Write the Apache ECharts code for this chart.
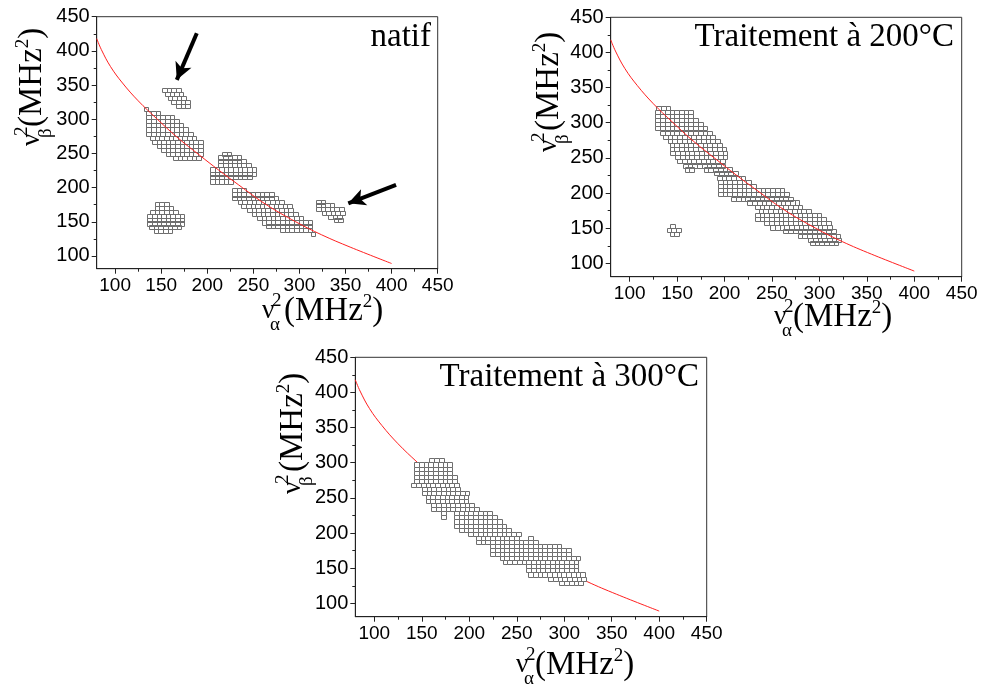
<!DOCTYPE html>
<html>
<head>
<meta charset="utf-8">
<script src="https://cdn.jsdelivr.net/npm/echarts@6/dist/echarts.min.js"></script>
<style>html,body{margin:0;padding:0;background:#fff}#c{width:983px;height:684px}</style>
</head>
<body>
<div id="c"></div>
<script>
// ---------------- data ----------------
const xTicks = [100, 150, 200, 250, 300, 350, 400, 450];
const xMinorTicks = [125, 175, 225, 275, 325, 375, 425];
const yTicks = [100, 150, 200, 250, 300, 350, 400, 450];
const yMinorTicks = [125, 175, 225, 275, 325, 375, 425];

const panelTitles = ['natif', 'Traitement à 200°C', 'Traitement à 300°C'];

// red reference curve
const curveX = [80, 85, 95, 108, 125, 145, 167, 192, 212, 234, 263, 296, 324, 355, 400];
const curveY = [418, 402, 377, 353, 327, 301, 274, 247, 226, 204, 176, 150, 131, 113, 89];

// grid cells, one run per row: [row centre ν²β, left edge ν²α of first cell, number of cells]
const cellsNatif = [
  [343,151,4],[337,154,4],[331,157,4],[325,161,4],[319,166,3],
  [315,131,1],[309,134,3],[303,134,6],[297,134,7],[291,134,8],[285,134,9],[279,134,10],
  [273,138,10],[267,140,11],[261,145,10],[255,150,9],[249,155,8],[243,163,6],
  [249,216,2],[244,212,5],[238.5,212,6],[232.5,212,7],[226.5,203,10],[220.5,203,10],[215,203,9],[209,203,5],
  [196,227,3],[190,227,9],[184.5,227,10],[178.5,233,10],[172.5,237,11],[167,243,10],[161,248,10],
  [155,254,10],[149,259,11],[143.5,264,10],[137.5,279,7],[132,312,1],
  [175.5,143,3],[170,143,4],[164.5,138,6],[158.5,135,8],[153,135,8],[147.5,135,8],[142,137,7],[136.5,142,4],
  [179.5,318,2],[174,318,4],[168.5,318,6],[163,324,5],[157.5,331,3],[152,337,2]
];
const cells200 = [
  [321,128,3],[315,127,8],[309.5,127,8],[303.5,127,9],[298,127,10],[292,127,11],[286,132,11],
  [280,135,11],[274.5,140,11],[268.5,142,11],[262.5,142,12],[257,143,12],[251,148,11],[245,150,10],
  [239,156,9],[233.5,158,2],[233.5,178,6],[228,189,5],[222,192,6],[216,193,7],[210,193,8],
  [204,193,14],[198,193,15],[192,207,13],[186.5,224,11],[180.5,232,10],[174.5,236,11],[169,232,14],
  [163,232,15],[157,242,14],[151,248,13],[145.5,262,11],[139.5,277,9],[133.5,288,7],[129,290,6],
  [153.5,143,1],[147.5,139,3],[141.5,142,2]
];
const cells300 = [
  [303.2,158,3],[297.5,142,8],[291.7,142,8],[286,142,8],[280.2,142,9],[274.4,142,9],[268.6,139,10],
  [262.8,150,8],[257,150,10],[251.2,154,9],[245.4,154,9],[239.6,160,9],[233.8,160,10],
  [228,170,1],[228,184,8],[222.2,170,1],[222.2,184,9],[216.4,184,10],[210.6,184,11],[204.8,189,11],
  [199,199,11],[193.2,207,9],[193.2,262,1],[187.4,207,13],[181.6,222,15],[175.8,222,17],[170,222,17],
  [164.2,232,17],[158.4,235,16],[152.6,260,11],[146.8,260,11],[141,262,12],[135.2,283,8],[129.4,295,5]
];

// arrows in the first panel: [tail, head] in data coordinates
const arrowsNatif = [
  [[188.6, 425.9], [166.9, 357.6]],
  [[404.8, 203.9], [353, 177]]
];

// ---------------- layout / style ----------------
const CELL_W = 5;
const panels = [
  { grid: {left: 96.7, top: 16.7, width: 341, height: 252}, rows: cellsNatif, cellH: 6, curveOnTop: true, yMin: 81.4,
    title: {x: 431, base: 48}, xt: {x: 262, base: 322, off: 22}, yt: {x: 43, y: 146, off: 19} },
  { grid: {left: 610.7, top: 17.3, width: 351, height: 259.4}, rows: cells200, cellH: 5.8, curveOnTop: true, yMin: 81,
    title: {x: 954, base: 48}, xt: {x: 774, base: 328, off: 19}, yt: {x: 560, y: 152, off: 21} },
  { grid: {left: 355.3, top: 357.3, width: 351.4, height: 259.4}, rows: cells300, cellH: 5.8, curveOnTop: false, yMin: 81,
    title: {x: 699, base: 388}, xt: {x: 516, base: 676, off: 19}, yt: {x: 304, y: 494, off: 22} }
];

const SERIF = '"Liberation Serif", "Times New Roman", serif';
const SANS = '"Liberation Sans", Arial, sans-serif';
const mctx = document.createElement('canvas').getContext('2d');
function tw(s, fs) { mctx.font = fs + 'px ' + SERIF; return mctx.measureText(s).width; }
function T(s, x, base, fs, align) {
  return { type: 'text', x: x, y: base - 0.3375 * fs, silent: true,
    style: { text: s, font: fs + 'px ' + SERIF, fill: '#000', align: align || 'left', verticalAlign: 'middle' } };
}
function axisTitle(sub, off) {
  const fsMain = 33, fsNu = 27, fsS = 19;
  const c = [T('ν', 0, -2, fsNu), T('2', 10, -15, fsS), T(sub, 8, 9, fsS)];
  let x = off;
  c.push(T('(MHz', x, 0, fsMain)); x += tw('(MHz', fsMain);
  c.push(T('2', x, -14, fsS)); x += tw('2', fsS);
  c.push(T(')', x, 0, fsMain));
  return c;
}

function expand(rows) {
  const out = [];
  rows.forEach(function (r) { for (let k = 0; k < r[2]; k++) out.push([r[1] + k * CELL_W, r[0]]); });
  return out;
}

const chart = echarts.init(document.getElementById('c'), null, {renderer: 'canvas'});
const grid = [], xAxis = [], yAxis = [], series = [], graphic = [];

panels.forEach(function (p, i) {
  grid.push(Object.assign({show: true, borderColor: '#333', borderWidth: 1, backgroundColor: 'transparent'}, p.grid));
  const lineCol = '#222';
  xAxis.push({ type: 'value', gridIndex: i, position: 'bottom', min: 80, max: 450,
    axisLine: {show: true, onZero: false, lineStyle: {color: lineCol, width: 1}},
    splitLine: {show: false},
    axisTick: {show: true, customValues: xTicks, length: 5, lineStyle: {color: lineCol}},
    axisLabel: {customValues: xTicks, fontFamily: SANS, fontSize: 19, color: '#000', margin: 8} });
  xAxis.push({ type: 'value', gridIndex: i, position: 'bottom', min: 80, max: 450,
    axisLine: {show: false}, splitLine: {show: false}, axisLabel: {show: false},
    axisTick: {show: true, customValues: xMinorTicks, length: 3, lineStyle: {color: lineCol}} });
  yAxis.push({ type: 'value', gridIndex: i, position: 'left', min: p.yMin, max: 450,
    axisLine: {show: true, onZero: false, lineStyle: {color: lineCol, width: 1}},
    splitLine: {show: false},
    axisTick: {show: true, customValues: yTicks, length: 5, lineStyle: {color: lineCol}},
    axisLabel: {customValues: yTicks, fontFamily: SANS, fontSize: 20, color: '#000', margin: 7} });
  yAxis.push({ type: 'value', gridIndex: i, position: 'left', min: p.yMin, max: 450,
    axisLine: {show: false}, splitLine: {show: false}, axisLabel: {show: false},
    axisTick: {show: true, customValues: yMinorTicks, length: 3, lineStyle: {color: lineCol}} });

  const cellH = p.cellH;
  series.push({
    type: 'custom', xAxisIndex: 2 * i, yAxisIndex: 2 * i, z: 3, silent: true,
    data: expand(p.rows),
    renderItem: function (params, api) {
      const x = api.value(0), y = api.value(1);
      const a = api.coord([x, y + cellH / 2]);
      const b = api.coord([x + CELL_W, y - cellH / 2]);
      const x0 = Math.round(a[0]) + 0.5, y0 = Math.round(a[1]) + 0.5;
      const x1 = Math.round(b[0]) + 0.5, y1 = Math.round(b[1]) + 0.5;
      return { type: 'rect', shape: {x: x0, y: y0, width: x1 - x0, height: y1 - y0},
        style: {fill: p.curveOnTop ? 'rgba(255,255,255,0)' : '#fff', stroke: '#6e6e6e', lineWidth: 1} };
    }
  });
  const line = {
    type: 'line', xAxisIndex: 2 * i, yAxisIndex: 2 * i, z: p.curveOnTop ? 5 : 2, silent: true,
    data: curveX.map(function (v, k) { return [v, curveY[k]]; }),
    smooth: 0.4, showSymbol: false, symbol: 'none',
    lineStyle: {color: '#ff2020', width: 1}
  };
  if (i === 0) {
    line.markLine = {
      silent: true, symbol: ['none', 'arrow'], symbolSize: [13, 17],
      label: {show: false}, emphasis: {disabled: true},
      lineStyle: {color: '#000', width: 4, type: 'solid'},
      data: arrowsNatif.map(function (a) { return [{coord: a[0]}, {coord: a[1]}]; })
    };
  }
  series.push(line);

  // panel title
  graphic.push(T(panelTitles[i], p.title.x, p.title.base, 33, 'right'));
  // axis titles
  graphic.push({type: 'group', x: p.xt.x, y: p.xt.base, children: axisTitle('α', p.xt.off)});
  graphic.push({type: 'group', x: p.yt.x, y: p.yt.y, rotation: Math.PI / 2, children: axisTitle('β', p.yt.off)});
});

chart.setOption({
  animation: false,
  backgroundColor: '#fff',
  grid: grid, xAxis: xAxis, yAxis: yAxis, series: series, graphic: graphic
});
</script>
</body>
</html>
